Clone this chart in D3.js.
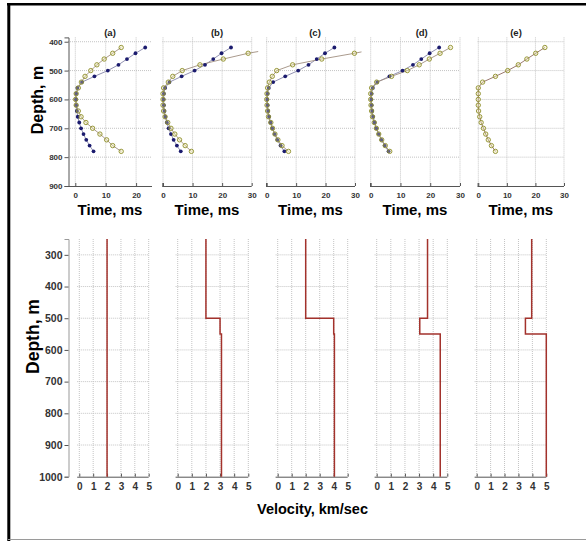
<!DOCTYPE html>
<html>
<head>
<meta charset="utf-8">
<script src="https://cdn.jsdelivr.net/npm/d3@7"></script>
<style>
  body { margin: 0; background: #fff; }
  svg { display: block; }
  text { font-family: "Liberation Sans", Arial, Helvetica, sans-serif; font-weight: bold; }
</style>
</head>
<body>
<svg id="fig" width="586" height="541"></svg>
<script>
// Receiver depths (m) for the travel-time curves
const receiverDepths = [420, 440, 460, 480, 500, 520, 540, 560, 580, 600, 620, 640, 660, 680, 700, 720, 740, 760, 780];

// Observed travel times (ms), blue dots
const observedTimes = [23.0, 19.8, 17.0, 14.2, 10.7, 6.3, 2.2, 0.7, 0.3, 0.2, 0.3, 0.5, 0.8, 1.3, 1.9, 2.7, 3.6, 4.7, 6.0];

// Modelled travel times (ms), yellow circles, one array per model
const modelTimesA = [15.1, 12.3, 9.5, 7.1, 5.1, 3.2, 2.0, 1.0, 0.3, 0.1, 0.3, 1.0, 1.9, 3.5, 5.7, 8.1, 10.3, 12.3, 15.1];
const modelTimesB = [40.0, 28.8, 20.4, 12.5, 6.5, 3.3, 1.8, 0.2, 0.0, 0.0, 0.0, 0.2, 0.7, 1.6, 2.7, 4.0, 5.6, 7.5, 9.6];
const modelTimesC = [40.0, 29.8, 18.7, 8.8, 3.4, 1.9, 0.9, 0.3, 0.1, 0.0, 0.1, 0.3, 0.6, 1.4, 2.0, 2.8, 3.8, 5.2, 7.4];
const modelTimesD = [26.8, 23.3, 19.7, 16.3, 12.3, 7.0, 2.0, 0.3, 0.0, 0.0, 0.1, 0.3, 0.6, 1.2, 1.9, 2.7, 3.7, 4.9, 6.4];
const modelTimesE = [23.3, 20.1, 17.0, 14.0, 10.3, 6.0, 1.5, 0.0, 0.0, 0.0, 0.0, 0.1, 0.5, 1.0, 1.8, 2.6, 3.5, 4.6, 6.0];

// Layered velocity models: layer boundaries (m) and layer velocities (km/s)
const layerBounds = [250, 500, 550, 1000];
const velocityA = [2.0, 2.0, 2.0];
const velocityB = [2.0, 3.0, 3.1];
const velocityC = [2.0, 4.0, 4.05];
const velocityD = [3.6, 3.05, 4.5];
const velocityE = [3.95, 3.5, 5.0];

// Labels and ticks
const panelLabels = ["(a)", "(b)", "(c)", "(d)", "(e)"];
const timeTicks = [0, 10, 20, 30];
const timeTicksFirst = [0, 10, 20];
const depthTicksTop = [400, 500, 600, 700, 800, 900];
const depthTicksBottom = [300, 400, 500, 600, 700, 800, 900, 1000];
const velocityTicks = [0, 1, 2, 3, 4, 5];

const svg = d3.select("#fig");
const fmt = d3.format("d");

// ---- frame ----
svg.append("rect").attr("x", 0).attr("y", 0).attr("width", 586).attr("height", 541).attr("fill", "#fff");
svg.append("line").attr("x1", 7).attr("x2", 586).attr("y1", 4.3).attr("y2", 4.3)
  .attr("stroke", "#000").attr("stroke-width", 2.4);
svg.append("line").attr("x1", 8.8).attr("x2", 8.8).attr("y1", 3).attr("y2", 541)
  .attr("stroke", "#000").attr("stroke-width", 3);
svg.append("line").attr("x1", 8).attr("x2", 586).attr("y1", 539.5).attr("y2", 539.5)
  .attr("stroke", "#9a9a9a").attr("stroke-width", 1);

const gridColor = "#c4c4c4";
const axisColor = "#555";
const tickTextColor = "#333";

function styleTickText(sel, size) {
  sel.selectAll(".tick text").attr("font-size", size).attr("fill", tickTextColor)
    .style("font-family", "'Liberation Sans', Arial, sans-serif").style("font-weight", "bold");
}

// ================= TOP ROW: travel times =================
const yTop = d3.scaleLinear().domain([385, 900]).range([37.4, 186]);
const topAxisY = yTop(900);

const topPanels = [
  { times: modelTimesA, zero: 75.3, thirty: 166.5, left: 68, right: 152, ticks: timeTicksFirst, titleX: 110, showObs: true },
  { times: modelTimesB, zero: 163, thirty: 251.7, left: 162.3, right: 251.7, ticks: timeTicks, titleX: 217, showObs: true },
  { times: modelTimesC, zero: 266.7, thirty: 355, left: 266, right: 355, ticks: timeTicks, titleX: 315, showObs: true },
  { times: modelTimesD, zero: 370.7, thirty: 460, left: 370, right: 460, ticks: timeTicks, titleX: 421.7, showObs: true },
  { times: modelTimesE, zero: 478.3, thirty: 564, left: 477.6, right: 564, ticks: timeTicks, titleX: 516, showObs: false }
];

const defs = svg.append("defs");

topPanels.forEach((p, i) => {
  const x = d3.scaleLinear().domain([0, 30]).range([p.zero, p.thirty]);
  const g = svg.append("g");

  // grid
  depthTicksTop.filter(d => d < 900).forEach(d => {
    g.append("line").attr("x1", p.left).attr("x2", p.right)
      .attr("y1", yTop(d)).attr("y2", yTop(d))
      .attr("stroke", gridColor).attr("stroke-dasharray", "1,1");
  });
  p.ticks.forEach(t => {
    g.append("line").attr("x1", x(t)).attr("x2", x(t))
      .attr("y1", yTop.range()[0]).attr("y2", topAxisY)
      .attr("stroke", gridColor).attr("stroke-dasharray", "1,1");
  });

  // x axis
  const xAxis = d3.axisBottom(x).tickValues(p.ticks).tickFormat(fmt).tickSize(-3).tickPadding(6);
  const ax = g.append("g").attr("transform", `translate(0,${topAxisY})`).call(xAxis);
  ax.select(".domain").remove();
  ax.append("line").attr("x1", p.left).attr("x2", p.right).attr("y1", 0.5).attr("y2", 0.5)
    .attr("stroke", axisColor);
  if (i > 0) {
    ax.append("line").attr("x1", p.left + 0.5).attr("x2", p.left + 0.5).attr("y1", 0.5).attr("y2", -3)
      .attr("stroke", axisColor);
  }
  ax.selectAll(".tick line").attr("stroke", axisColor);
  styleTickText(ax, 8);

  // clip region for the curves
  const clipId = "clip" + i;
  defs.append("clipPath").attr("id", clipId).append("rect")
    .attr("x", p.left - 4).attr("y", yTop.range()[0])
    .attr("width", p.right - p.left + 10.5).attr("height", topAxisY - yTop.range()[0]);
  const data = g.append("g").attr("clip-path", `url(#${clipId})`);

  const line = d3.line().x(d => x(d[0])).y(d => yTop(d[1]));
  const obs = receiverDepths.map((d, k) => [observedTimes[k], d]);
  const mod = receiverDepths.map((d, k) => [p.times[k], d]);

  if (p.showObs) {
    data.append("path").attr("d", line(obs)).attr("fill", "none")
      .attr("stroke", "#8484a8").attr("stroke-width", 0.9);
  }
  data.append("path").attr("d", line(mod)).attr("fill", "none")
    .attr("stroke", p.showObs ? "#a08f80" : "#8e6a60").attr("stroke-width", 0.9);

  if (p.showObs) {
    data.selectAll("circle.obs").data(obs).join("circle").attr("class", "obs")
      .attr("cx", d => x(d[0])).attr("cy", d => yTop(d[1])).attr("r", 1.9)
      .attr("fill", "#1b1b6e");
  }
  data.selectAll("circle.mod").data(mod).join("circle").attr("class", "mod")
    .attr("cx", d => x(d[0])).attr("cy", d => yTop(d[1])).attr("r", 2.2)
    .attr("fill", "rgba(235,230,160,0.35)").attr("stroke", "#8f8e2c").attr("stroke-width", 0.9);

  // panel title
  svg.append("text").attr("x", p.titleX).attr("y", 35.5).attr("text-anchor", "middle")
    .attr("font-size", 9.5).attr("fill", "#222").text(panelLabels[i]);

  // axis title
  svg.append("text").attr("x", (p.left + p.right) / 2).attr("y", 214.5).attr("text-anchor", "middle")
    .attr("font-size", 15).attr("fill", "#000").text("Time, ms");
});

// top depth axis
const yAxTop = svg.append("g").attr("transform", "translate(68.5,0)")
  .call(d3.axisLeft(yTop).tickValues(depthTicksTop).tickFormat(fmt).tickSize(4).tickPadding(2));
yAxTop.select(".domain").attr("stroke", axisColor);
yAxTop.selectAll(".tick line").attr("stroke", axisColor);
styleTickText(yAxTop, 8);
svg.append("text").attr("transform", "translate(43,100) rotate(-90)").attr("text-anchor", "middle")
  .attr("font-size", 16).attr("fill", "#000").text("Depth, m");

// ================= BOTTOM ROW: velocity models =================
const yBot = d3.scaleLinear().domain([250, 1000]).range([239, 476.7]);
const botAxisY = yBot(1000);

const botPanels = [
  { vel: velocityA, zero: 79.3, five: 148.7 },
  { vel: velocityB, zero: 177.7, five: 248.3 },
  { vel: velocityC, zero: 277.7, five: 347.7 },
  { vel: velocityD, zero: 376.7, five: 447.3 },
  { vel: velocityE, zero: 476.7, five: 546.3 }
];

botPanels.forEach(p => {
  const x = d3.scaleLinear().domain([0, 5]).range([p.zero, p.five]);
  const g = svg.append("g");
  const left = x(-0.15);

  depthTicksBottom.filter(d => d < 1000).forEach(d => {
    g.append("line").attr("x1", left).attr("x2", x(5))
      .attr("y1", yBot(d)).attr("y2", yBot(d))
      .attr("stroke", gridColor).attr("stroke-dasharray", "1,1");
  });
  velocityTicks.forEach(v => {
    g.append("line").attr("x1", x(v)).attr("x2", x(v))
      .attr("y1", yBot.range()[0]).attr("y2", botAxisY)
      .attr("stroke", gridColor).attr("stroke-dasharray", "1,1");
  });

  const ax = g.append("g").attr("transform", `translate(0,${botAxisY})`)
    .call(d3.axisBottom(x).tickValues(velocityTicks).tickFormat(fmt).tickSize(-3).tickPadding(6));
  ax.select(".domain").remove();
  ax.append("line").attr("x1", left).attr("x2", x(5)).attr("y1", 0.5).attr("y2", 0.5)
    .attr("stroke", axisColor);
  ax.selectAll(".tick line").attr("stroke", axisColor);
  styleTickText(ax, 10);

  // step profile built from layer boundaries and velocities
  const pts = [];
  p.vel.forEach((v, k) => {
    pts.push([v, layerBounds[k]]);
    pts.push([v, layerBounds[k + 1]]);
  });
  g.append("path")
    .attr("d", d3.line().x(d => x(d[0])).y(d => yBot(d[1]))(pts))
    .attr("fill", "none").attr("stroke", "#a3322c").attr("stroke-width", 1.5);
});

const yAxBot = svg.append("g").attr("transform", "translate(68.5,0)")
  .call(d3.axisLeft(yBot).tickValues(depthTicksBottom).tickFormat(fmt).tickSize(4).tickPadding(2));
yAxBot.select(".domain").attr("stroke", "#999");
yAxBot.selectAll(".tick line").attr("stroke", axisColor);
styleTickText(yAxBot, 10.5);

svg.append("text").attr("transform", "translate(38.5,336.5) rotate(-90)").attr("text-anchor", "middle")
  .attr("font-size", 17.5).attr("fill", "#000").text("Depth, m");
svg.append("text").attr("x", 312.5).attr("y", 513.5).attr("text-anchor", "middle")
  .attr("font-size", 14.5).attr("fill", "#000").text("Velocity, km/sec");
</script>
</body>
</html>
